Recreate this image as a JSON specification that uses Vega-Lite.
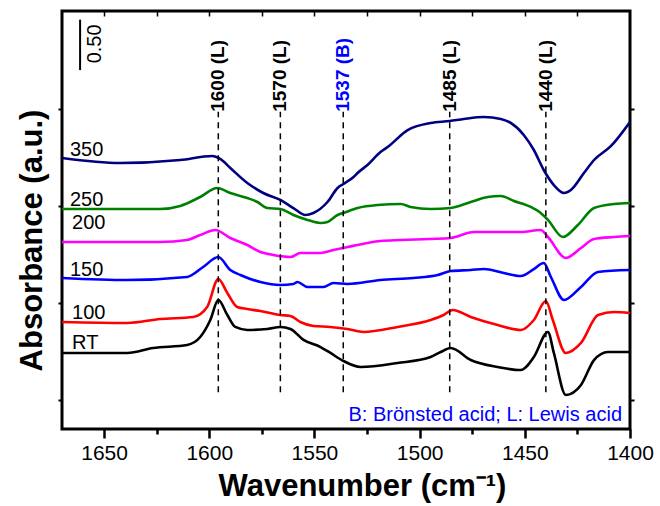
{
  "$schema": "https://vega.github.io/schema/vega-lite/v6.json",
  "width": 568,
  "height": 418,
  "autosize": "none",
  "padding": {"left": 62, "top": 11, "right": 30, "bottom": 77},
  "background": "white",
  "config": {
    "view": {"stroke": "black", "strokeWidth": 3},
    "axis": {"domain": false, "grid": false, "labelFont": "Liberation Sans", "titleFont": "Liberation Sans", "tickColor": "black", "labelColor": "black", "titleColor": "black"},
    "text": {"font": "Liberation Sans"}
  },
  "datasets": {
    "spectra": [
      {"s": "350", "wn": 1670, "a": 2.794}, {"s": "350", "wn": 1642.4, "a": 2.742}, {"s": "350", "wn": 1613.8, "a": 2.773}, {"s": "350", "wn": 1598.6, "a": 2.814}, {"s": "350", "wn": 1594.8, "a": 2.784}, {"s": "350", "wn": 1590.0, "a": 2.691}, {"s": "350", "wn": 1581.9, "a": 2.536}, {"s": "350", "wn": 1574.3, "a": 2.433}, {"s": "350", "wn": 1566.2, "a": 2.361}, {"s": "350", "wn": 1560.0, "a": 2.278}, {"s": "350", "wn": 1554.3, "a": 2.206}, {"s": "350", "wn": 1550.5, "a": 2.227}, {"s": "350", "wn": 1543.8, "a": 2.340}, {"s": "350", "wn": 1539.0, "a": 2.485}, {"s": "350", "wn": 1536.2, "a": 2.526}, {"s": "350", "wn": 1531.4, "a": 2.598}, {"s": "350", "wn": 1529.5, "a": 2.639}, {"s": "350", "wn": 1524.8, "a": 2.722}, {"s": "350", "wn": 1518.6, "a": 2.856}, {"s": "350", "wn": 1515.2, "a": 2.907}, {"s": "350", "wn": 1505.7, "a": 3.082}, {"s": "350", "wn": 1494.8, "a": 3.155}, {"s": "350", "wn": 1485.7, "a": 3.175}, {"s": "350", "wn": 1479.0, "a": 3.196}, {"s": "350", "wn": 1469.5, "a": 3.216}, {"s": "350", "wn": 1461.4, "a": 3.196}, {"s": "350", "wn": 1456.7, "a": 3.155}, {"s": "350", "wn": 1450.5, "a": 3.031}, {"s": "350", "wn": 1445.7, "a": 2.876}, {"s": "350", "wn": 1441.0, "a": 2.670}, {"s": "350", "wn": 1436.2, "a": 2.515}, {"s": "350", "wn": 1431.4, "a": 2.433}, {"s": "350", "wn": 1428.1, "a": 2.464}, {"s": "350", "wn": 1421.9, "a": 2.639}, {"s": "350", "wn": 1417.1, "a": 2.773}, {"s": "350", "wn": 1409.0, "a": 2.918}, {"s": "350", "wn": 1400, "a": 3.165},
      {"s": "250", "wn": 1670, "a": 2.268}, {"s": "250", "wn": 1623.3, "a": 2.268}, {"s": "250", "wn": 1613.8, "a": 2.299}, {"s": "250", "wn": 1604.3, "a": 2.392}, {"s": "250", "wn": 1596.2, "a": 2.485}, {"s": "250", "wn": 1590.0, "a": 2.433}, {"s": "250", "wn": 1581.9, "a": 2.381}, {"s": "250", "wn": 1577.1, "a": 2.340}, {"s": "250", "wn": 1572.4, "a": 2.278}, {"s": "250", "wn": 1566.2, "a": 2.268}, {"s": "250", "wn": 1560.0, "a": 2.206}, {"s": "250", "wn": 1553.3, "a": 2.155}, {"s": "250", "wn": 1547.1, "a": 2.124}, {"s": "250", "wn": 1543.8, "a": 2.134}, {"s": "250", "wn": 1539.0, "a": 2.206}, {"s": "250", "wn": 1536.2, "a": 2.227}, {"s": "250", "wn": 1529.5, "a": 2.278}, {"s": "250", "wn": 1520.0, "a": 2.309}, {"s": "250", "wn": 1509.0, "a": 2.320}, {"s": "250", "wn": 1504.3, "a": 2.289}, {"s": "250", "wn": 1494.8, "a": 2.268}, {"s": "250", "wn": 1485.2, "a": 2.278}, {"s": "250", "wn": 1475.7, "a": 2.340}, {"s": "250", "wn": 1467.6, "a": 2.392}, {"s": "250", "wn": 1461.4, "a": 2.402}, {"s": "250", "wn": 1455.2, "a": 2.351}, {"s": "250", "wn": 1447.1, "a": 2.289}, {"s": "250", "wn": 1443.0, "a": 2.237}, {"s": "250", "wn": 1439.0, "a": 2.155}, {"s": "250", "wn": 1431.9, "a": 1.979}, {"s": "250", "wn": 1424.8, "a": 2.103}, {"s": "250", "wn": 1417.1, "a": 2.278}, {"s": "250", "wn": 1407.6, "a": 2.320}, {"s": "250", "wn": 1400, "a": 2.330},
      {"s": "200", "wn": 1670, "a": 1.928}, {"s": "200", "wn": 1623.3, "a": 1.928}, {"s": "200", "wn": 1610.5, "a": 1.948}, {"s": "200", "wn": 1604.3, "a": 2.000}, {"s": "200", "wn": 1597.1, "a": 2.052}, {"s": "200", "wn": 1590.0, "a": 1.969}, {"s": "200", "wn": 1581.9, "a": 1.897}, {"s": "200", "wn": 1575.7, "a": 1.825}, {"s": "200", "wn": 1569.5, "a": 1.794}, {"s": "200", "wn": 1561.4, "a": 1.773}, {"s": "200", "wn": 1556.7, "a": 1.814}, {"s": "200", "wn": 1547.1, "a": 1.814}, {"s": "200", "wn": 1541.0, "a": 1.845}, {"s": "200", "wn": 1534.3, "a": 1.876}, {"s": "200", "wn": 1524.8, "a": 1.918}, {"s": "200", "wn": 1518.6, "a": 1.938}, {"s": "200", "wn": 1509.0, "a": 1.948}, {"s": "200", "wn": 1494.8, "a": 1.959}, {"s": "200", "wn": 1485.2, "a": 1.969}, {"s": "200", "wn": 1474.3, "a": 2.031}, {"s": "200", "wn": 1462.9, "a": 2.031}, {"s": "200", "wn": 1451.9, "a": 2.031}, {"s": "200", "wn": 1442.4, "a": 2.052}, {"s": "200", "wn": 1439.0, "a": 1.979}, {"s": "200", "wn": 1430.5, "a": 1.763}, {"s": "200", "wn": 1423.3, "a": 1.866}, {"s": "200", "wn": 1417.1, "a": 1.959}, {"s": "200", "wn": 1407.6, "a": 1.979}, {"s": "200", "wn": 1400, "a": 1.990},
      {"s": "150", "wn": 1670, "a": 1.557}, {"s": "150", "wn": 1639.0, "a": 1.536}, {"s": "150", "wn": 1610.5, "a": 1.567}, {"s": "150", "wn": 1602.9, "a": 1.670}, {"s": "150", "wn": 1595.7, "a": 1.773}, {"s": "150", "wn": 1590.0, "a": 1.639}, {"s": "150", "wn": 1585.2, "a": 1.588}, {"s": "150", "wn": 1575.7, "a": 1.515}, {"s": "150", "wn": 1566.2, "a": 1.485}, {"s": "150", "wn": 1560.0, "a": 1.495}, {"s": "150", "wn": 1558.1, "a": 1.515}, {"s": "150", "wn": 1553.3, "a": 1.464}, {"s": "150", "wn": 1545.7, "a": 1.464}, {"s": "150", "wn": 1541.0, "a": 1.505}, {"s": "150", "wn": 1534.3, "a": 1.495}, {"s": "150", "wn": 1518.6, "a": 1.536}, {"s": "150", "wn": 1502.9, "a": 1.557}, {"s": "150", "wn": 1491.4, "a": 1.588}, {"s": "150", "wn": 1485.2, "a": 1.629}, {"s": "150", "wn": 1475.7, "a": 1.639}, {"s": "150", "wn": 1469.5, "a": 1.649}, {"s": "150", "wn": 1460.0, "a": 1.608}, {"s": "150", "wn": 1451.9, "a": 1.577}, {"s": "150", "wn": 1445.7, "a": 1.649}, {"s": "150", "wn": 1441.0, "a": 1.711}, {"s": "150", "wn": 1437.6, "a": 1.567}, {"s": "150", "wn": 1431.4, "a": 1.330}, {"s": "150", "wn": 1423.3, "a": 1.464}, {"s": "150", "wn": 1415.2, "a": 1.619}, {"s": "150", "wn": 1400, "a": 1.639},
      {"s": "100", "wn": 1670, "a": 1.103}, {"s": "100", "wn": 1639.0, "a": 1.093}, {"s": "100", "wn": 1623.3, "a": 1.134}, {"s": "100", "wn": 1607.6, "a": 1.155}, {"s": "100", "wn": 1601.0, "a": 1.258}, {"s": "100", "wn": 1595.7, "a": 1.546}, {"s": "100", "wn": 1591.4, "a": 1.402}, {"s": "100", "wn": 1586.7, "a": 1.258}, {"s": "100", "wn": 1581.9, "a": 1.237}, {"s": "100", "wn": 1575.7, "a": 1.216}, {"s": "100", "wn": 1566.2, "a": 1.175}, {"s": "100", "wn": 1561.4, "a": 1.165}, {"s": "100", "wn": 1556.7, "a": 1.103}, {"s": "100", "wn": 1550.5, "a": 1.062}, {"s": "100", "wn": 1542.4, "a": 1.052}, {"s": "100", "wn": 1534.3, "a": 1.031}, {"s": "100", "wn": 1526.7, "a": 1.000}, {"s": "100", "wn": 1510.5, "a": 1.052}, {"s": "100", "wn": 1494.8, "a": 1.124}, {"s": "100", "wn": 1488.6, "a": 1.175}, {"s": "100", "wn": 1484.3, "a": 1.227}, {"s": "100", "wn": 1475.7, "a": 1.155}, {"s": "100", "wn": 1462.9, "a": 1.072}, {"s": "100", "wn": 1451.9, "a": 1.021}, {"s": "100", "wn": 1445.7, "a": 1.124}, {"s": "100", "wn": 1440.0, "a": 1.320}, {"s": "100", "wn": 1436.7, "a": 1.124}, {"s": "100", "wn": 1430.5, "a": 0.784}, {"s": "100", "wn": 1423.3, "a": 0.887}, {"s": "100", "wn": 1415.2, "a": 1.175}, {"s": "100", "wn": 1407.6, "a": 1.206}, {"s": "100", "wn": 1400, "a": 1.196},
      {"s": "RT", "wn": 1670, "a": 0.784}, {"s": "RT", "wn": 1639.0, "a": 0.784}, {"s": "RT", "wn": 1626.7, "a": 0.835}, {"s": "RT", "wn": 1610.5, "a": 0.866}, {"s": "RT", "wn": 1604.3, "a": 0.948}, {"s": "RT", "wn": 1599.5, "a": 1.124}, {"s": "RT", "wn": 1595.7, "a": 1.330}, {"s": "RT", "wn": 1591.4, "a": 1.175}, {"s": "RT", "wn": 1587.6, "a": 1.052}, {"s": "RT", "wn": 1581.9, "a": 1.021}, {"s": "RT", "wn": 1572.4, "a": 1.031}, {"s": "RT", "wn": 1566.2, "a": 1.052}, {"s": "RT", "wn": 1561.4, "a": 1.031}, {"s": "RT", "wn": 1555.2, "a": 0.918}, {"s": "RT", "wn": 1547.1, "a": 0.845}, {"s": "RT", "wn": 1542.4, "a": 0.784}, {"s": "RT", "wn": 1536.2, "a": 0.701}, {"s": "RT", "wn": 1528.1, "a": 0.639}, {"s": "RT", "wn": 1510.5, "a": 0.680}, {"s": "RT", "wn": 1494.8, "a": 0.742}, {"s": "RT", "wn": 1490.0, "a": 0.794}, {"s": "RT", "wn": 1485.2, "a": 0.835}, {"s": "RT", "wn": 1475.7, "a": 0.711}, {"s": "RT", "wn": 1462.9, "a": 0.639}, {"s": "RT", "wn": 1451.9, "a": 0.608}, {"s": "RT", "wn": 1445.7, "a": 0.742}, {"s": "RT", "wn": 1439.0, "a": 1.000}, {"s": "RT", "wn": 1436.2, "a": 0.784}, {"s": "RT", "wn": 1430.5, "a": 0.351}, {"s": "RT", "wn": 1423.3, "a": 0.454}, {"s": "RT", "wn": 1417.1, "a": 0.711}, {"s": "RT", "wn": 1410.5, "a": 0.794}, {"s": "RT", "wn": 1400, "a": 0.794}
    ],
    "peaks": [
      {"lab": "1600 (L)", "kind": "L", "wn": 1595.7, "a0": 0.38, "a1": 3.27},
      {"lab": "1570 (L)", "kind": "L", "wn": 1566.2, "a0": 0.38, "a1": 3.27},
      {"lab": "1537 (B)", "kind": "B", "wn": 1536.3, "a0": 0.38, "a1": 3.27},
      {"lab": "1485 (L)", "kind": "L", "wn": 1485.7, "a0": 0.38, "a1": 3.27},
      {"lab": "1440 (L)", "kind": "L", "wn": 1440.0, "a0": 0.38, "a1": 3.27}
    ],
    "serieslabels": [
      {"lab": "350", "wn": 1666.2, "a": 2.81},
      {"lab": "250", "wn": 1666.2, "a": 2.30},
      {"lab": "200", "wn": 1665.2, "a": 2.06},
      {"lab": "150", "wn": 1666.2, "a": 1.58},
      {"lab": "100", "wn": 1665.2, "a": 1.13},
      {"lab": "RT", "wn": 1665.2, "a": 0.82}
    ]
  },
  "resolve": {"axis": {"x": "independent", "y": "independent"}},
  "layer": [
    {
      "data": {"name": "spectra"},
      "mark": {"type": "line", "strokeWidth": 2.6, "clip": true, "interpolate": "monotone"},
      "encoding": {
        "x": {"field": "wn", "type": "quantitative", "scale": {"domain": [1400, 1670], "reverse": true, "nice": false, "zero": false},
              "axis": {"values": [1650, 1600, 1550, 1500, 1450, 1400], "format": "d", "tickSize": 9, "tickWidth": 2.5, "labelFontSize": 21, "labelPadding": 4, "labelFlush": false, "labelOverlap": false, "title": "Wavenumber (cm⁻¹)", "titleFontSize": 31, "titleFontWeight": "bold", "titlePadding": 8, "titleX": 300}},
        "y": {"field": "a", "type": "quantitative", "scale": {"domain": [0, 4.309], "nice": false, "zero": false},
              "axis": {"values": [0.3, 1.3, 2.3, 3.3], "labels": false, "tickSize": 4, "tickWidth": 2, "title": "Absorbance (a.u.)", "titleFontSize": 31, "titleFontWeight": "bold", "titlePadding": 9, "titleY": 229}},
        "color": {"field": "s", "type": "nominal", "legend": null,
                  "scale": {"domain": ["RT", "100", "150", "200", "250", "350"], "range": ["#000000", "#ff0000", "#0000ff", "#ff00ff", "#008000", "#000080"]}},
        "detail": {"field": "s"}
      }
    },
    {
      "data": {"name": "peaks"},
      "mark": {"type": "rule", "strokeDash": [6, 5], "strokeWidth": 1.5, "color": "black"},
      "encoding": {
        "x": {"field": "wn", "type": "quantitative", "axis": {"orient": "bottom", "values": [1625, 1575, 1525, 1475, 1425], "labels": false, "tickSize": 5, "tickWidth": 2.5, "title": null}},
        "y": {"field": "a0", "type": "quantitative", "axis": null},
        "y2": {"field": "a1"}
      }
    },
    {
      "data": {"name": "peaks"},
      "mark": {"type": "text", "angle": 270, "align": "left", "baseline": "middle", "fontSize": 19, "fontWeight": "bold"},
      "encoding": {
        "x": {"field": "wn", "type": "quantitative", "axis": {"orient": "top", "values": [1650, 1625, 1600, 1575, 1550, 1525, 1500, 1475, 1450, 1425], "labels": false, "tickSize": -5, "tickWidth": 1.5, "title": null}},
        "y": {"field": "a1", "type": "quantitative", "axis": null},
        "text": {"field": "lab"},
        "color": {"condition": {"test": "datum.kind === 'B'", "value": "#0000ff"}, "value": "black"}
      }
    },
    {
      "data": {"name": "serieslabels"},
      "mark": {"type": "text", "align": "left", "baseline": "alphabetic", "fontSize": 20, "color": "black"},
      "encoding": {
        "x": {"field": "wn", "type": "quantitative", "axis": null},
        "y": {"field": "a", "type": "quantitative", "axis": null},
        "text": {"field": "lab"}
      }
    },
    {
      "data": {"values": [{"wn": 1661.4, "a0": 3.70, "a1": 4.22}]},
      "mark": {"type": "rule", "strokeWidth": 2, "color": "black"},
      "encoding": {
        "x": {"field": "wn", "type": "quantitative", "axis": null},
        "y": {"field": "a0", "type": "quantitative", "axis": {"orient": "right", "values": [0.3, 1.3, 2.3, 3.3], "labels": false, "tickSize": 4, "tickWidth": 2, "title": null}},
        "y2": {"field": "a1"}
      }
    },
    {
      "data": {"values": [{"wn": 1654.3, "a": 3.97, "txt": "0.50"}]},
      "mark": {"type": "text", "angle": 270, "align": "center", "baseline": "middle", "fontSize": 20, "color": "black"},
      "encoding": {
        "x": {"field": "wn", "type": "quantitative", "axis": null},
        "y": {"field": "a", "type": "quantitative", "axis": null},
        "text": {"field": "txt"}
      }
    },
    {
      "data": {"values": [{"wn": 1403.8, "a": 0.085, "txt": "B: Brönsted acid; L: Lewis acid"}]},
      "mark": {"type": "text", "align": "right", "baseline": "alphabetic", "fontSize": 20, "color": "#0000ff"},
      "encoding": {
        "x": {"field": "wn", "type": "quantitative", "axis": null},
        "y": {"field": "a", "type": "quantitative", "axis": null},
        "text": {"field": "txt"}
      }
    }
  ]
}
